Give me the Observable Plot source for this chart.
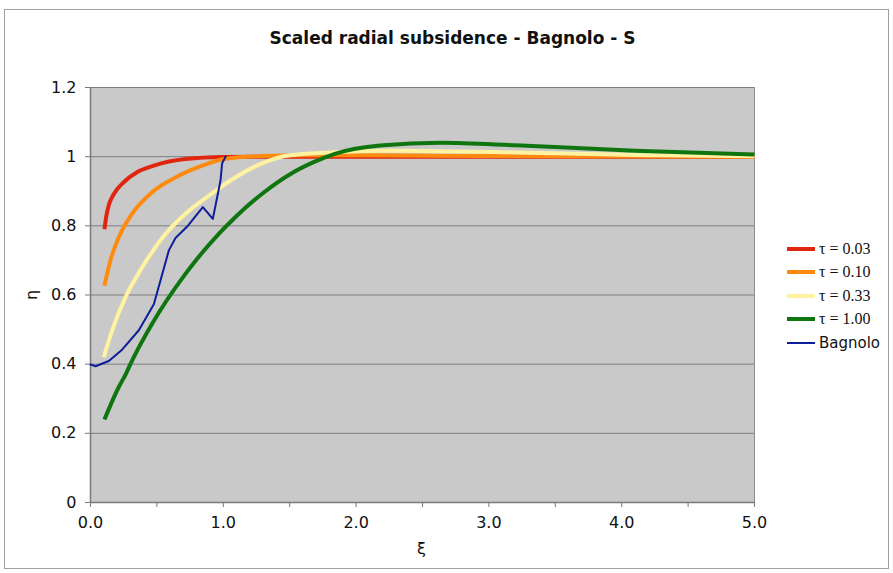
<!DOCTYPE html>
<html>
<head>
<meta charset="utf-8">
<script src="https://cdn.jsdelivr.net/npm/d3@7"></script>
<script src="https://cdn.jsdelivr.net/npm/@observablehq/plot@0.6"></script>
<style>
  html, body { margin: 0; padding: 0; background: #fff; }
  #wrap { position: relative; width: 893px; height: 573px; overflow: hidden; font-family: "DejaVu Sans", Verdana, sans-serif; }
  #border { position: absolute; left: 4px; top: 9px; width: 885px; height: 560px; border: 1px solid #a0a0a0; box-sizing: border-box; }
  #title { position: absolute; left: 0; width: 905px; top: 28px; text-align: center; font-weight: bold; font-size: 17px; color: #111; }
  #chart { position: absolute; left: 0; top: 0; }
  .axlab { position: absolute; font-size: 16px; color: #111; line-height: 16px; }
  #ylab { left: 24px; top: 287px; width: 16px; text-align: center; transform: rotate(-90deg); }
  #legend { position: absolute; left: 787px; top: 237px; }
  .row { height: 23.5px; display: flex; align-items: center; }
  .sw { width: 28px; margin-right: 4px; }
  .tau { font-family: "Liberation Serif", "Times New Roman", serif; font-size: 16px; color: #111; }
  .bag { font-family: "DejaVu Sans", Verdana, sans-serif; font-size: 15px; color: #111; }
</style>
</head>
<body>
<div id="wrap">
  <div id="border"></div>
  <div id="title">Scaled radial subsidence - Bagnolo - S</div>
  <div id="chart"></div>
  <div class="axlab" id="ylab">η</div>
  <div class="axlab" style="left:417px; top:541px;">ξ</div>
  <div id="legend"></div>
</div>
<script>
// ---- data ----
const xTicks = [0, 0.5, 1, 1.5, 2, 2.5, 3, 3.5, 4, 4.5, 5];
const yTicks = [0, 0.2, 0.4, 0.6, 0.8, 1, 1.2];

const seriesNames = ["τ = 0.03", "τ = 0.10", "τ = 0.33", "τ = 1.00", "Bagnolo"];

const tau003X = [0.105, 0.12, 0.138, 0.176, 0.25, 0.35, 0.477, 0.715, 1.0, 1.5, 2.0, 3.0, 4.0, 5.0];
const tau003Y = [0.79, 0.83, 0.86, 0.892, 0.926, 0.955, 0.974, 0.993, 0.999, 1.0, 1.0, 1.0, 1.0, 1.0];

const tau010X = [0.105, 0.15, 0.213, 0.314, 0.464, 0.64, 0.841, 1.017, 1.3, 1.6, 2.0, 3.0, 4.0, 5.0];
const tau010Y = [0.627, 0.70, 0.767, 0.835, 0.897, 0.94, 0.974, 0.994, 1.002, 1.004, 1.004, 1.002, 1.001, 1.0];

const tau033X = [0.10, 0.163, 0.264, 0.389, 0.54, 0.715, 0.89, 1.09, 1.3, 1.5, 1.8, 2.2, 2.6, 3.2, 4.1, 5.0];
const tau033Y = [0.42, 0.498, 0.594, 0.68, 0.765, 0.835, 0.887, 0.94, 0.982, 1.004, 1.012, 1.017, 1.016, 1.012, 1.005, 1.001];

const tau100X = [0.105, 0.213, 0.264, 0.314, 0.464, 0.715, 0.966, 1.09, 1.3, 1.506, 1.68, 1.84, 2.18, 2.64, 3.2, 4.1, 5.0];
const tau100Y = [0.24, 0.334, 0.37, 0.411, 0.517, 0.661, 0.777, 0.825, 0.895, 0.95, 0.984, 1.008, 1.032, 1.04, 1.033, 1.017, 1.006];

const bagnoloX = [0, 0.038, 0.138, 0.238, 0.364, 0.477, 0.59, 0.64, 0.728, 0.846, 0.921, 0.979, 0.991, 1.017];
const bagnoloY = [0.399, 0.394, 0.409, 0.442, 0.498, 0.573, 0.729, 0.765, 0.798, 0.854, 0.82, 0.931, 0.981, 1.0];

const colors = ["#e0260e", "#ff8a10", "#fff2a0", "#0f760f", "#0c1e9c"];
const widths = [4, 4, 4, 4, 2];

const toPts = (xs, ys) => xs.map((x, i) => ({x, y: ys[i]}));
const series = [
  toPts(tau003X, tau003Y),
  toPts(tau010X, tau010Y),
  toPts(tau033X, tau033Y),
  toPts(tau100X, tau100Y),
  toPts(bagnoloX, bagnoloY)
];

const chart = Plot.plot({
  width: 893,
  height: 573,
  marginLeft: 90,
  marginRight: 139,
  marginTop: 87,
  marginBottom: 71,
  x: {domain: [0, 5], label: null},
  y: {domain: [0, 1.2], label: null},
  style: {fontFamily: "DejaVu Sans, Verdana, sans-serif", fontSize: "16px", color: "#111", background: "transparent", overflow: "visible"},
  marks: [
    Plot.frame({fill: "#c9c9c9", stroke: "#8e8e8e"}),
    Plot.gridY(yTicks.filter(d => d > 0), {stroke: "#7e7e7e", strokeOpacity: 1, strokeWidth: 1}),
    Plot.ruleX([0], {stroke: "#7a7a7a", strokeWidth: 1.5}),
    Plot.ruleY([0], {stroke: "#7a7a7a", strokeWidth: 1.5}),
    Plot.axisX(xTicks, {tickSize: 5, tickPadding: 9, stroke: "#7a7a7a",
      tickFormat: d => (Math.abs(d % 1) < 1e-9 ? d.toFixed(1) : ""), fontSize: 16}),
    Plot.axisY(yTicks, {tickSize: 5, tickPadding: 9, stroke: "#7a7a7a",
      tickFormat: d => String(d), fontSize: 16}),
    ...series.slice(0, 4).map((pts, i) =>
      Plot.line(pts, {x: "x", y: "y", stroke: colors[i], strokeWidth: widths[i], curve: "monotone-x", strokeLinecap: "butt"})
    ),
    Plot.line(series[4], {x: "x", y: "y", stroke: colors[4], strokeWidth: widths[4], curve: "linear", strokeLinejoin: "round"})
  ]
});
document.getElementById("chart").appendChild(chart);

const legend = document.getElementById("legend");
seriesNames.forEach((name, i) => {
  const row = document.createElement("div");
  row.className = "row";
  row.innerHTML = `<svg class="sw" width="28" height="6"><line x1="0" x2="28" y1="3" y2="3" stroke="${colors[i]}" stroke-width="${widths[i]}"/></svg>` +
    `<span class="${i < 4 ? "tau" : "bag"}">${name}</span>`;
  legend.appendChild(row);
});
</script>
</body>
</html>
